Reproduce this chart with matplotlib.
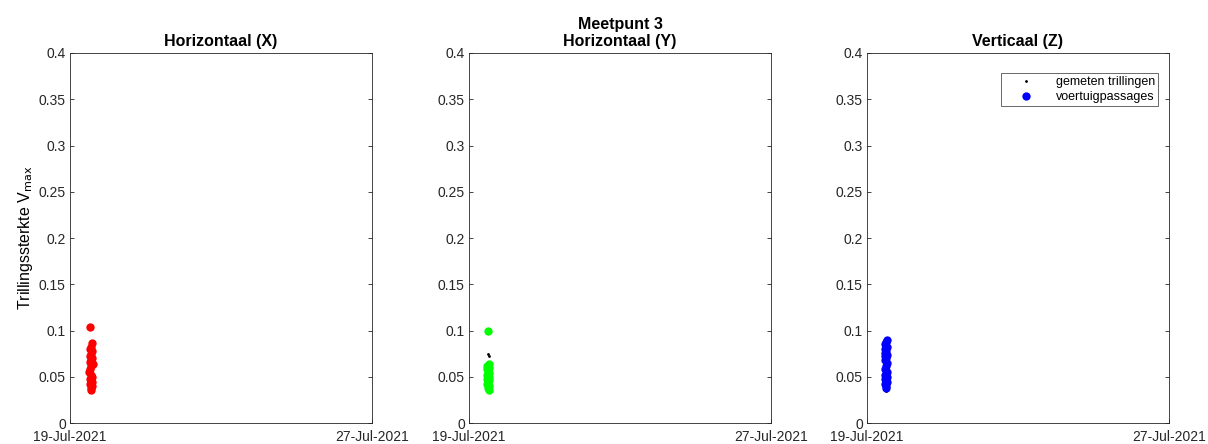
import matplotlib
matplotlib.use("Agg")
import matplotlib.pyplot as plt
import numpy as np
from datetime import datetime, timedelta

plt.rcParams['font.family'] = ['Liberation Sans', 'DejaVu Sans']

start = datetime(2021, 7, 19)
end = datetime(2021, 7, 27)
x_ticklabels = ['19-Jul-2021', '27-Jul-2021']
y_ticks = [0, 0.05, 0.1, 0.15, 0.2, 0.25, 0.3, 0.35, 0.4]
y_ticklabels = ['0', '0.05', '0.1', '0.15', '0.2', '0.25', '0.3', '0.35', '0.4']

titles = ['Horizontaal (X)', 'Meetpunt 3\nHorizontaal (Y)', 'Verticaal (Z)']
colors = ['#ff0000', '#00ff00', '#0000ff']

# hours after 19-Jul-2021 00:00
hours_x = [13.0, 14.0, 13.2, 12.6, 14.2, 13.5, 12.4, 14.1, 13.1, 12.5, 14.4, 13.4, 13.0, 12.3, 13.6, 14.3, 12.7, 13.3, 13.9, 12.4, 14.1, 13.2, 13.5]
vmax_x = [0.104, 0.086, 0.082, 0.080, 0.078, 0.075, 0.072, 0.070, 0.068, 0.066, 0.064, 0.062, 0.058, 0.055, 0.052, 0.050, 0.048, 0.046, 0.044, 0.042, 0.040, 0.038, 0.036]

hours_y = [11.8, 12.9, 11.6, 12.5, 11.4, 12.2, 13.0, 11.7, 12.4, 11.5, 12.7, 12.1, 11.6, 12.8, 12.3, 12.6]
vmax_y = [0.100, 0.064, 0.062, 0.060, 0.058, 0.056, 0.054, 0.052, 0.050, 0.048, 0.046, 0.044, 0.042, 0.040, 0.038, 0.036]

hours_z = [12.5, 11.9, 11.4, 12.6, 11.2, 12.2, 11.7, 12.8, 11.3, 12.3, 11.6, 12.5, 11.9, 11.5, 12.4, 11.7, 12.6, 11.3, 12.0, 12.7, 11.6, 12.2, 11.9]
vmax_z = [0.090, 0.088, 0.085, 0.082, 0.080, 0.078, 0.076, 0.074, 0.072, 0.070, 0.068, 0.065, 0.062, 0.058, 0.055, 0.052, 0.050, 0.048, 0.046, 0.044, 0.042, 0.040, 0.038]

# extra measured vibrations (small black dots) not covered by passages
meas_hours_x = [13.2, 13.4]
meas_vals_x = [0.060, 0.035]
meas_hours_y = [12.2, 12.5, 12.0]
meas_vals_y = [0.075, 0.072, 0.035]
meas_hours_z = [12.0, 12.2]
meas_vals_z = [0.060, 0.035]

series = [(hours_x, vmax_x, meas_hours_x, meas_vals_x),
          (hours_y, vmax_y, meas_hours_y, meas_vals_y),
          (hours_z, vmax_z, meas_hours_z, meas_vals_z)]

W, H = 1208, 444
fig = plt.figure(figsize=(W / 100, H / 100), dpi=100)
lefts = [70, 469, 867]
axw = 302
bottom = (444 - 423) / H
height = 370 / H

edge = '#262626'
for i, (hrs, vals, mh, mv) in enumerate(series):
    ax = fig.add_axes([lefts[i] / W, bottom, axw / W, height])
    t_pass = [start + timedelta(hours=h) for h in hrs]
    t_meas = [start + timedelta(hours=h) for h in list(hrs) + list(mh)]
    v_meas = list(vals) + list(mv)
    ax.plot(t_meas, v_meas, '.', color='k', markersize=2, label='gemeten trillingen', zorder=2)
    ax.plot(t_pass, vals, 'o', color=colors[i], markersize=6, markeredgewidth=0,
            label='voertuigpassages', zorder=3)
    ax.set_xlim(start, end)
    ax.set_ylim(0, 0.4)
    ax.set_xticks([start, end])
    ax.set_xticklabels(x_ticklabels)
    ax.set_yticks(y_ticks)
    ax.set_yticklabels(y_ticklabels)
    ax.tick_params(direction='in', length=3, width=0.6, labelsize=10, colors=edge,
                   right=True, top=False, pad=3)
    ax.tick_params(axis='x', pad=5)
    for s in ax.spines.values():
        s.set_color(edge)
        s.set_linewidth(0.6)
    ax.set_title(titles[i], fontsize=11.5, fontweight='bold', pad=5)
    if i == 0:
        ax.set_ylabel('Trillingssterkte V$_{\\rm max}$', fontsize=11.5, labelpad=3)
    if i == 2:
        leg = ax.legend(loc='upper right', fontsize=9,
                        frameon=True, fancybox=False, edgecolor=edge,
                        handlelength=3.5, handletextpad=0.6, borderpad=0.25,
                        labelspacing=0.25, borderaxespad=0,
                        bbox_to_anchor=(0.964, 0.946))
        leg.get_frame().set_linewidth(0.6)
        leg.legend_handles[0].set_markersize(2)
        leg.legend_handles[1].set_markersize(6)

fig.savefig('out.png', dpi=100)
